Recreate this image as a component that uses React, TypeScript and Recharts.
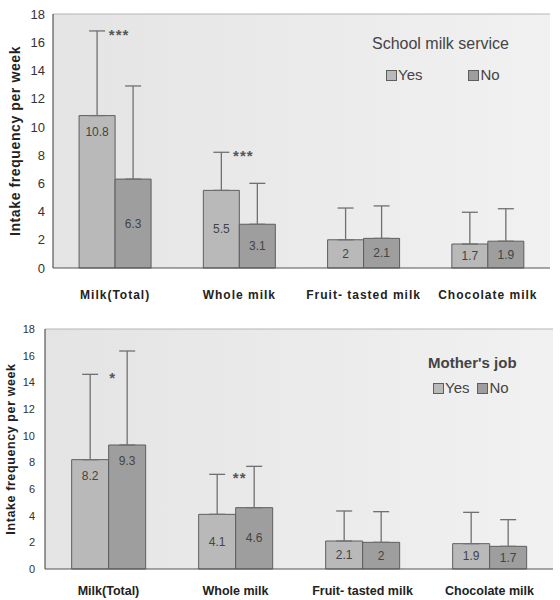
import React from "react";
import {
  Bar,
  BarChart,
  CartesianGrid,
  ErrorBar,
  LabelList,
  ReferenceLine,
  XAxis,
  YAxis,
} from "recharts";

const categories = ["Milk(Total)", "Whole milk", "Fruit- tasted milk", "Chocolate milk"];

// School milk service (top panel)
const schoolYes = [10.8, 5.5, 2, 1.7];
const schoolNo = [6.3, 3.1, 2.1, 1.9];
const schoolYesSd = [6.0, 2.7, 2.25, 2.25];
const schoolNoSd = [6.6, 2.9, 2.3, 2.3];
const schoolSig = ["***", "***", "", ""];

// Mother's job (bottom panel)
const motherYes = [8.2, 4.1, 2.1, 1.9];
const motherNo = [9.3, 4.6, 2, 1.7];
const motherYesSd = [6.4, 3.0, 2.25, 2.35];
const motherNoSd = [7.05, 3.1, 2.3, 2.0];
const motherSig = ["*", "**", "", ""];

const yTicks = [0, 2, 4, 6, 8, 10, 12, 14, 16, 18];

const YES_FILL = "#b9b9b9";
const NO_FILL = "#9e9e9e";
const EDGE = "#5e5e5e";
const NARROW = "'Liberation Sans Narrow', 'Liberation Sans', Arial, sans-serif";
const SANS = "'Liberation Sans', Arial, sans-serif";

type Row = {
  name: string;
  yes: number;
  no: number;
  yesErr: [number, number];
  noErr: [number, number];
  sig: string;
  yesSd: number;
};

const buildRows = (yes: number[], no: number[], yesSd: number[], noSd: number[], sig: string[]): Row[] =>
  categories.map((name, i) => ({
    name,
    yes: yes[i],
    no: no[i],
    yesErr: [0, yesSd[i]],
    noErr: [0, noSd[i]],
    sig: sig[i],
    yesSd: yesSd[i],
  }));

const schoolRows = buildRows(schoolYes, schoolNo, schoolYesSd, schoolNoSd, schoolSig);
const motherRows = buildRows(motherYes, motherNo, motherYesSd, motherNoSd, motherSig);

const ValueLabel = (props: any) => {
  const { x, y, width, height, value } = props;
  const cy = height > 100 ? y + 16 : y + height / 2;
  return (
    <text
      x={x + width / 2}
      y={cy}
      textAnchor="middle"
      dominantBaseline="central"
      fontSize={12}
      fontFamily={NARROW}
      fill="#444"
    >
      {value}
    </text>
  );
};

type PanelProps = {
  rows: Row[];
  id: string;
  top: number;
  margin: { top: number; right: number; left: number; bottom: number };
  yWidth: number;
  yTickSize: number;
  yTickMargin: number;
  xFont: number;
  xSpacing: number;
  xHeight: number;
  xTickMargin: number;
  titleX: number;
  titleSize: number;
  legend: React.ReactNode;
};

function Panel(p: PanelProps) {
  const rows = p.rows;
  const StarLabel = (props: any) => {
    const { x, y, width, height, value, index } = props;
    if (!value) return null;
    const row = rows[index];
    const errTop = y - (row.yesSd * height) / row.yes;
    return (
      <text
        x={x + width + 4}
        y={errTop + 9}
        textAnchor="middle"
        fontSize={15}
        fontWeight="bold"
        letterSpacing={1}
        fontFamily={SANS}
        fill="#555"
      >
        {value}
      </text>
    );
  };

  return (
    <div style={{ position: "absolute", left: 0, top: p.top, width: 560, height: 312 }}>
      <BarChart
        width={560}
        height={312}
        data={rows}
        margin={p.margin}
        barCategoryGap="21%"
        barGap={0}
      >
        <defs>
          <linearGradient id={p.id} x1="0" y1="0" x2="1" y2="0">
            <stop offset="0%" stopColor="#e4e4e4" />
            <stop offset="100%" stopColor="#f1f1f1" />
          </linearGradient>
        </defs>
        <CartesianGrid
          horizontal={false}
          vertical={false}
          fill={`url(#${p.id})`}
          fillOpacity={1}
        />
        <ReferenceLine y={18} stroke="#b5b5b5" strokeWidth={1} />
        <XAxis
          dataKey="name"
          tickLine={false}
          axisLine={{ stroke: "#555", strokeWidth: 1.2 }}
          height={p.xHeight}
          tickMargin={p.xTickMargin}
          interval={0}
          tick={{
            fontSize: p.xFont,
            fontWeight: "bold",
            fill: "#222",
            fontFamily: SANS,
            letterSpacing: p.xSpacing,
          }}
        />
        <YAxis
          domain={[0, 18]}
          ticks={yTicks}
          width={p.yWidth}
          tickLine={false}
          tickMargin={p.yTickMargin}
          axisLine={{ stroke: "#555", strokeWidth: 1.2 }}
          tick={{ fontSize: p.yTickSize, fill: "#333", fontFamily: NARROW }}
          label={{
            content: (lp: any) => {
              const vb = lp.viewBox;
              const cx = p.titleX;
              const cy = vb.y + vb.height / 2;
              return (
                <text
                  x={cx}
                  y={cy}
                  transform={`rotate(-90, ${cx}, ${cy})`}
                  textAnchor="middle"
                  dominantBaseline="central"
                  fontSize={p.titleSize}
                  fontWeight="bold"
                  fontFamily={SANS}
                  letterSpacing={0.6}
                  fill="#222"
                >
                  Intake frequency per week
                </text>
              );
            },
          }}
        />
        <Bar dataKey="yes" fill={YES_FILL} stroke={EDGE} strokeWidth={1} isAnimationActive={false}>
          <ErrorBar dataKey="yesErr" width={8} stroke="#707070" strokeWidth={1.3} />
          <LabelList dataKey="yes" content={ValueLabel} />
          <LabelList dataKey="sig" content={StarLabel} />
        </Bar>
        <Bar dataKey="no" fill={NO_FILL} stroke={EDGE} strokeWidth={1} isAnimationActive={false}>
          <ErrorBar dataKey="noErr" width={8} stroke="#707070" strokeWidth={1.3} />
          <LabelList dataKey="no" content={ValueLabel} />
        </Bar>
      </BarChart>
      {p.legend}
    </div>
  );
}

const Swatch = ({ color }: { color: string }) => (
  <span
    style={{
      display: "inline-block",
      width: 9,
      height: 9,
      background: color,
      border: `1.5px solid ${EDGE}`,
      marginRight: 1,
      verticalAlign: "middle",
      position: "relative",
      top: -1,
    }}
  />
);

const schoolLegend = (
  <div style={{ position: "absolute", left: 372, top: 34, fontFamily: SANS, color: "#444" }}>
    <div style={{ fontSize: 16, lineHeight: "20px", whiteSpace: "nowrap" }}>School milk service</div>
    <div style={{ fontSize: 15, lineHeight: "20px", marginTop: 11, marginLeft: 14, whiteSpace: "nowrap", fontFamily: NARROW }}>
      <Swatch color={YES_FILL} />Yes
      <span style={{ display: "inline-block", width: 46 }} />
      <Swatch color={NO_FILL} />No
    </div>
  </div>
);

const motherLegend = (
  <div style={{ position: "absolute", left: 428, top: 53, fontFamily: SANS, color: "#444" }}>
    <div style={{ fontSize: 15, fontWeight: "bold", lineHeight: "20px", whiteSpace: "nowrap" }}>Mother's job</div>
    <div style={{ fontSize: 15, lineHeight: "20px", marginTop: 5, marginLeft: 5, whiteSpace: "nowrap" }}>
      <Swatch color={YES_FILL} />Yes
      <span style={{ display: "inline-block", width: 8 }} />
      <Swatch color={NO_FILL} />No
    </div>
  </div>
);

export default function App() {
  return (
    <div style={{ position: "absolute", left: 0, top: 0, width: 560, height: 600, background: "#fff", overflow: "hidden" }}>
      <Panel
        rows={schoolRows}
        id="bgTop"
        top={0}
        margin={{ top: 14, right: 10, left: 0, bottom: 12 }}
        yWidth={53}
        yTickSize={13}
        yTickMargin={2}
        xFont={12}
        xSpacing={1}
        xHeight={32}
        xTickMargin={16}
        titleX={15}
        titleSize={14}
        legend={schoolLegend}
      />
      <Panel
        rows={motherRows}
        id="bgBottom"
        top={300}
        margin={{ top: 29, right: 7, left: 0, bottom: 12 }}
        yWidth={45}
        yTickSize={11}
        yTickMargin={4}
        xFont={12.5}
        xSpacing={0}
        xHeight={31}
        xTickMargin={11}
        titleX={11}
        titleSize={12.5}
        legend={motherLegend}
      />
    </div>
  );
}
